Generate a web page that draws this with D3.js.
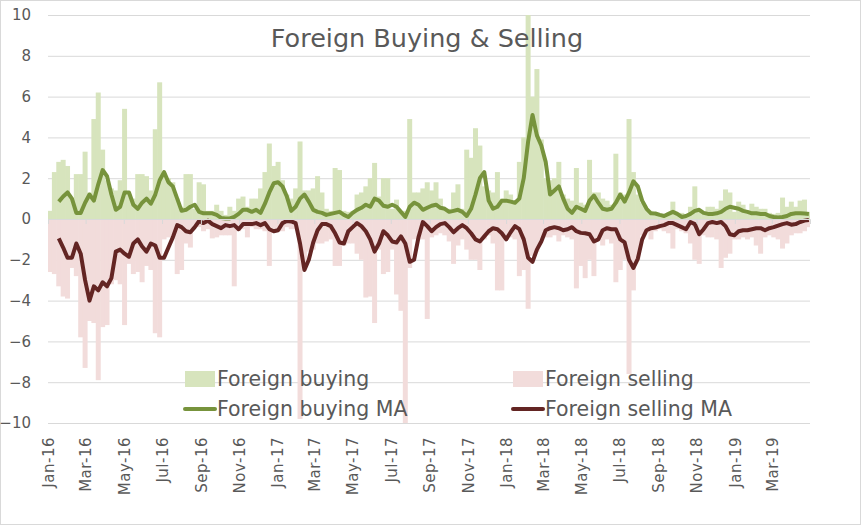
<!DOCTYPE html>
<html>
<head>
<meta charset="utf-8">
<script src="https://cdn.jsdelivr.net/npm/d3@7"></script>
<style>
  body { margin: 0; background: #fff; }
  text { font-family: "DejaVu Sans", Verdana, sans-serif; fill: #595959; }
</style>
</head>
<body>
<script>
// Weekly readings (values in the same units as the y axis), Jan-16 .. Apr-19
const foreignBuying = [
  0.4, 2.3, 2.8, 2.9, 2.6, 1.0, 2.2, 2.2, 3.3, 1.3, 4.9, 6.2, 3.4, 1.9, 1.5, 1.4, 1.9, 5.4, 1.2, 1.0,
  2.2, 2.2, 2.1, 1.4, 4.4, 6.7, 2.1, 2.0, 1.8, 1.0, 0.6, 2.2, 2.2, 0.5, 1.8, 1.7, 0.4, 0.4, 0.7, 0.4,
  0.2, 0.6, 0.4, 1.0, 1.1, 0.6, 1.0, 1.0, 1.5, 2.3, 3.7, 2.6, 2.8, 1.9, 1.2, 1.0, 1.5, 3.8, 1.4, 1.4,
  1.5, 2.1, 1.3, 0.5, 0.4, 2.5, 2.4, 0.4, 0.35, 0.4, 1.2, 1.3, 1.6, 2.0, 2.75, 1.1, 2.0, 2.0, 0.5, 0.95,
  0.3, 0.4, 4.9, 1.3, 1.3, 1.5, 1.8, 1.4, 1.8, 1.0, 0.5, 0.5, 1.3, 1.7, 0.5, 3.4, 3.0, 4.45, 3.6, 1.6,
  1.4, 1.3, 2.3, 1.0, 1.4, 1.2, 0.8, 2.8, 4.0, 10.0, 6.0, 7.35, 3.9, 2.0, 1.9, 2.0, 2.8, 1.2, 1.0, 0.9,
  2.5, 0.8, 0.7, 2.9, 1.3, 1.3, 1.0, 0.9, 0.7, 3.2, 1.3, 1.2, 4.9, 2.3, 1.2, 0.8, 0.5, 0.4, 0.3, 0.2,
  0.25, 0.3, 0.85, 0.3, 0.3, 0.25, 0.6, 1.6, 0.4, 0.3, 0.6, 0.6, 0.5, 0.9, 1.45, 1.3, 0.35, 0.85, 0.7, 0.4,
  0.75, 0.6, 0.5, 0.5, 0.3, 0.25, 0.3, 1.05, 0.6, 0.85, 0.6, 0.9, 0.95, 0.35
];

const foreignSelling = [
  -2.6, -2.7, -3.3, -3.8, -3.9, -2.4, -2.8, -5.8, -7.3, -5.0, -5.1, -7.9, -5.3, -5.2, -3.2, -3.0, -3.2, -5.2, -2.2, -2.7,
  -2.6, -3.1, -2.3, -2.5, -5.6, -5.8, -1.0, -0.9, -0.8, -2.7, -2.5, -1.2, -1.4, -0.3, -0.4, -0.6, -0.5, -0.95, -0.9, -0.8,
  -0.8, -0.8, -3.3, -0.6, -0.5, -0.9, -0.4, -0.5, -0.5, -0.6, -2.3, -0.5, -0.6, -0.6, -0.4, -0.5, -0.5, -9.8, -2.3, -1.6,
  -1.5, -1.2, -1.2, -1.1, -1.0, -2.3, -2.3, -1.3, -1.2, -1.2, -1.7, -2.0, -3.85, -3.8, -5.1, -1.5, -2.7, -2.6, -1.5, -3.7,
  -4.5, -10.0, -2.4, -1.0, -1.0, -1.0, -4.9, -0.9, -0.8, -0.7, -0.8, -1.1, -2.2, -1.3, -1.0, -1.5, -2.0, -2.0, -2.5, -1.0,
  -0.8, -1.2, -3.5, -3.5, -1.0, -0.9, -1.0, -2.8, -2.5, -4.4, -1.8, -1.6, -1.0, -0.9, -0.9, -0.8, -1.1, -0.8, -0.9, -1.0,
  -3.4, -2.3, -2.9, -2.0, -2.8, -1.0, -1.3, -1.0, -1.2, -3.1, -2.5, -2.0, -7.6, -3.5, -2.0, -0.8, -0.6, -1.0, -0.6, -0.5,
  -0.6, -0.7, -1.45, -0.5, -0.6, -0.7, -1.2, -2.0, -2.2, -0.8, -0.9, -0.9, -1.0, -2.4, -1.9, -1.7, -1.0, -1.0, -0.9, -1.0,
  -0.9, -1.3, -1.7, -0.9, -0.8, -0.9, -1.0, -1.45, -1.2, -0.8, -0.7, -0.7, -0.6, -0.4
];

const foreignBuyingMA = [
  null, null, 0.85, 1.1, 1.3, 1.0, 0.3, 0.3, 0.8, 1.2, 0.9, 1.7, 2.4, 2.1, 1.2, 0.45, 0.6, 1.3, 1.3, 0.7,
  0.5, 0.8, 1.0, 0.75, 1.2, 1.9, 2.3, 1.8, 1.6, 1.0, 0.4, 0.45, 0.6, 0.7, 0.35, 0.28, 0.28, 0.28, 0.2, 0.05,
  0.03, 0.03, 0.1, 0.25, 0.45, 0.45, 0.35, 0.45, 0.3, 0.75, 1.3, 1.75, 1.8, 1.6, 1.1, 0.4, 0.6, 1.0, 1.2, 0.85,
  0.45, 0.35, 0.3, 0.2, 0.25, 0.3, 0.35, 0.2, 0.1, 0.3, 0.45, 0.55, 0.7, 0.6, 1.0, 0.9, 0.65, 0.6, 0.7, 0.6,
  0.35, 0.1, 0.6, 0.8, 0.7, 0.45, 0.55, 0.65, 0.7, 0.55, 0.5, 0.35, 0.4, 0.45, 0.35, 0.15, 0.5, 1.2, 2.0, 2.3,
  0.9, 0.5, 0.6, 0.9, 0.9, 0.85, 0.8, 1.0, 2.0, 3.8, 5.1, 4.1, 3.6, 2.8, 1.2, 1.4, 1.6, 1.0, 0.5, 0.3,
  0.6, 0.5, 0.4, 0.9, 1.15, 0.8, 0.5, 0.45, 0.5, 0.8, 1.2, 0.85, 1.3, 1.85, 1.6, 0.9, 0.5, 0.28, 0.27, 0.2,
  0.15, 0.25, 0.35, 0.25, 0.1, 0.15, 0.25, 0.4, 0.45, 0.3, 0.25, 0.25, 0.28, 0.35, 0.5, 0.6, 0.55, 0.5, 0.4, 0.35,
  0.28, 0.28, 0.25, 0.25, 0.15, 0.1, 0.08, 0.1, 0.15, 0.25, 0.28, 0.28, 0.27, 0.25
];

const foreignSellingMA = [
  null, null, -0.95, -1.4, -1.9, -1.9, -1.2, -1.7, -3.0, -4.0, -3.3, -3.5, -3.1, -3.3, -2.9, -1.6, -1.5, -1.7, -1.85, -1.2,
  -1.0, -1.35, -1.6, -1.2, -1.3, -1.9, -1.9, -1.4, -0.9, -0.3, -0.4, -0.6, -0.65, -0.4, -0.1, -0.2, -0.08, -0.25, -0.35, -0.45,
  -0.3, -0.35, -0.3, -0.5, -0.25, -0.25, -0.25, -0.2, -0.3, -0.2, -0.5, -0.6, -0.55, -0.2, -0.1, -0.12, -0.2, -1.2, -2.5, -2.0,
  -1.15, -0.55, -0.25, -0.25, -0.35, -0.7, -1.15, -1.2, -0.6, -0.4, -0.2, -0.35, -0.6, -1.0, -1.6, -1.2, -0.6, -0.8, -1.1, -1.15,
  -0.85, -1.2, -2.1, -2.0, -0.9, -0.15, -0.35, -0.6, -0.4, -0.25, -0.2, -0.4, -0.65, -0.45, -0.3, -0.45, -0.7, -1.0, -1.1, -0.85,
  -0.6, -0.45, -0.5, -0.7, -1.0, -0.65, -0.35, -0.5, -1.0, -1.9, -2.1, -1.5, -1.1, -0.55, -0.45, -0.4, -0.45, -0.55, -0.5, -0.4,
  -0.6, -0.68, -0.7, -0.75, -1.1, -1.0, -0.55, -0.45, -0.5, -0.5, -1.0, -1.15, -2.0, -2.4, -1.95, -1.0, -0.55, -0.45, -0.42, -0.35,
  -0.3, -0.2, -0.2, -0.3, -0.4, -0.5, -0.15, -0.25, -0.75, -0.5, -0.2, -0.15, -0.2, -0.15, -0.35, -0.75, -0.8, -0.6, -0.55, -0.55,
  -0.5, -0.45, -0.45, -0.55, -0.45, -0.4, -0.32, -0.25, -0.2, -0.28, -0.25, -0.15, -0.08, -0.05
];

// one category per week, starting 1 Jan 2016
const weeks = d3.timeDay.range(new Date(2016, 0, 1), new Date(2019, 4, 1), 7);
const yTicks = [-10, -8, -6, -4, -2, 0, 2, 4, 6, 8, 10];
const xTicks = d3.timeMonth.range(new Date(2016, 0, 1), new Date(2019, 3, 1), 2);

const width = 862, height = 526;
const plotLeft = 48, plotRight = 810, plotTop = 15, plotBottom = 423;

const svg = d3.select("body").append("svg")
    .attr("width", width)
    .attr("height", height);

// chart border
svg.append("rect")
    .attr("x", 0.5).attr("y", 0.5)
    .attr("width", width - 2).attr("height", height - 2)
    .attr("fill", "#fff").attr("stroke", "#d9d9d9");

const x = d3.scaleTime()
    .domain([new Date(2016, 0, 1), new Date(2019, 4, 1)])
    .range([plotLeft, plotRight]);

const y = d3.scaleLinear().domain([-10, 10]).range([plotBottom, plotTop]);

// gridlines + y labels
const yAxis = svg.append("g")
    .attr("transform", `translate(${plotLeft},0)`)
    .call(d3.axisLeft(y).tickValues(yTicks).tickSize(-(plotRight - plotLeft)).tickPadding(17));
yAxis.select(".domain").remove();
yAxis.selectAll("line").attr("stroke", "#d9d9d9");
yAxis.selectAll("text")
    .attr("fill", "#595959")
    .style("font-size", "15px");

svg.append("clipPath").attr("id", "plot")
    .append("rect").attr("x", plotLeft).attr("y", plotTop)
    .attr("width", plotRight - plotLeft).attr("height", plotBottom - plotTop);

const plot = svg.append("g").attr("clip-path", "url(#plot)");
const bw = (x(weeks[1]) - x(weeks[0])) + 0.6;

plot.selectAll(".buy")
    .data(foreignBuying)
    .enter().append("rect")
    .attr("x", (d, i) => x(weeks[i]) - bw / 2 + 2)
    .attr("y", d => y(d))
    .attr("width", bw)
    .attr("height", d => y(0) - y(d))
    .attr("fill", "#d7e4bd");

plot.selectAll(".sell")
    .data(foreignSelling)
    .enter().append("rect")
    .attr("x", (d, i) => x(weeks[i]) - bw / 2 + 2)
    .attr("y", y(0))
    .attr("width", bw)
    .attr("height", d => y(d) - y(0))
    .attr("fill", "#f2dcdb");

// category axis crossing at zero (tick marks only)
const zeroAxis = svg.append("g")
    .attr("transform", `translate(0,${y(0)})`)
    .call(d3.axisBottom(x).tickValues(xTicks).tickSize(5).tickFormat(""));
zeroAxis.selectAll("path, line").attr("stroke", "#d9d9d9");

// moving averages
const line = d3.line()
    .defined(d => d != null)
    .x((d, i) => x(weeks[i]) + 2)
    .y(d => y(d));

plot.append("path")
    .datum(foreignBuyingMA)
    .attr("d", line)
    .attr("fill", "none")
    .attr("stroke", "#77933c")
    .attr("stroke-width", 4)
    .attr("stroke-linejoin", "round");

plot.append("path")
    .datum(foreignSellingMA)
    .attr("d", line)
    .attr("fill", "none")
    .attr("stroke", "#632523")
    .attr("stroke-width", 4)
    .attr("stroke-linejoin", "round");

// x labels at the bottom, rotated
const xLabels = svg.append("g")
    .attr("transform", `translate(0,437)`)
    .call(d3.axisBottom(x).tickValues(xTicks).tickSize(0).tickFormat(d3.timeFormat("%b-%y")));
xLabels.select(".domain").remove();
xLabels.selectAll("text")
    .attr("transform", "rotate(-90)")
    .attr("text-anchor", "end")
    .attr("x", 0)
    .attr("y", 0)
    .attr("dy", "0.35em")
    .attr("fill", "#595959")
    .style("font-size", "15px")
    .style("letter-spacing", "0.5px");

// title
svg.append("text")
    .attr("x", 427)
    .attr("y", 47)
    .attr("text-anchor", "middle")
    .attr("fill", "#4d4d4d")
    .style("font-size", "25.5px")
    .text("Foreign Buying & Selling");

// legend
const legendItems = [
  { label: "Foreign buying", type: "bar", color: "#d7e4bd", x: 185, y: 379 },
  { label: "Foreign selling", type: "bar", color: "#f2dcdb", x: 513, y: 379 },
  { label: "Foreign buying MA", type: "line", color: "#77933c", x: 185, y: 409 },
  { label: "Foreign selling MA", type: "line", color: "#632523", x: 513, y: 409 }
];

const legend = svg.selectAll(".legend")
    .data(legendItems)
    .enter().append("g")
    .attr("transform", d => `translate(${d.x},${d.y})`);

legend.filter(d => d.type === "bar").append("rect")
    .attr("x", 0).attr("y", -8)
    .attr("width", 30).attr("height", 16)
    .attr("fill", d => d.color);

legend.filter(d => d.type === "line").append("line")
    .attr("x1", 0).attr("x2", 30)
    .attr("stroke", d => d.color)
    .attr("stroke-width", 4)
    .attr("stroke-linecap", "round");

legend.append("text")
    .attr("x", 32)
    .attr("y", 7)
    .style("font-size", "20.5px")
    .text(d => d.label);
</script>
</body>
</html>
